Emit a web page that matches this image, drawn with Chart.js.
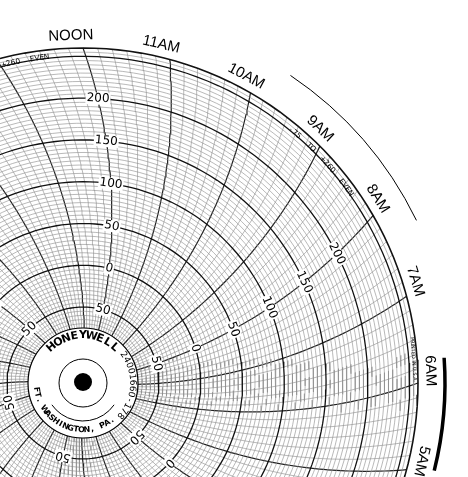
<!DOCTYPE html>
<html><head><meta charset="utf-8">
<script src="https://cdn.jsdelivr.net/npm/chart.js@4"></script>
<style>body{margin:0;background:#fff}#wrap{width:468px;height:477px}</style>
</head><body><div id="wrap"><canvas id="c"></canvas></div>
<script>
// chart paper: -75 to +260 even, 24 hours
const valueMin = -75, valueMax = 260, valueStep = 5;
const hourLabels = ["NOON","11AM","10AM","9AM","8AM","7AM","6AM","5AM","4AM","3AM","2AM","1AM",
  "MIDNIGHT","11PM","10PM","9PM","8PM","7PM","6PM","5PM","4PM","3PM","2PM","1PM"];
const scaleLabels = ["50","0","50","100","150","200"];
const scaleValues = [-50, 0, 50, 100, 150, 200];
const scaleHours = [0, 4, 8, 12, 16, 20]; // index into hourLabels
const rangeText = "-75  TO  +260  EVEN";

const HUB = 55, OUTER = 335, ARM = 1000;
const rad = v => HUB + (v - valueMin) * (OUTER - HUB) / (valueMax - valueMin);
const bend = r => Math.acos(r / ARM) - Math.acos(OUTER / ARM);
function pos(v, deg) {
  const r = rad(v), a = deg * Math.PI / 180 + bend(r);
  return { x: r * Math.sin(a), y: r * Math.cos(a), a: a };
}

const datasets = [];
for (let v = valueMin; v <= valueMax; v += valueStep) {
  const pts = [];
  for (let d = 0; d <= 360; d += 2) pts.push(pos(v, d));
  const major = v % 50 === 0 || v === valueMax;
  datasets.push({ data: pts, borderColor: major ? "#111" : "#8a8a8a",
    borderWidth: v === valueMax ? 1.6 : (major ? 1.3 : 0.6) });
}
for (let k = 0; k < 144; k++) {
  const pts = [];
  for (let v = valueMin; v <= valueMax; v += 5) pts.push(pos(v, k * 2.5));
  const hour = k % 6 === 0;
  datasets.push({ data: pts, borderColor: hour ? "#222" : "#8a8a8a", borderWidth: hour ? 1.2 : 0.6 });
}

function arcText(ctx, text, r, center, outward, spacing) {
  const step = spacing / r;
  let a = center * Math.PI / 180 - (outward ? 1 : -1) * step * (text.length - 1) / 2;
  for (const ch of text) {
    ctx.save();
    ctx.translate(r * Math.sin(a), -r * Math.cos(a));
    ctx.rotate(outward ? a : a - Math.PI);
    ctx.textAlign = "center";
    ctx.textBaseline = outward ? "bottom" : "top";
    ctx.fillText(ch, 0, 0);
    ctx.restore();
    a += outward ? step : -step;
  }
}

const paper = {
  id: "paper",
  afterDatasetsDraw(chart) {
    const ctx = chart.ctx, xs = chart.scales.x, ys = chart.scales.y;
    const cx = xs.getPixelForValue(0), cy = ys.getPixelForValue(0);
    ctx.save();
    ctx.translate(cx, cy);
    ctx.fillStyle = "#000"; ctx.strokeStyle = "#000";
    // scale labels along every fourth hour line
    ctx.font = "12px 'DejaVu Sans'";
    scaleHours.forEach(h => {
      scaleValues.forEach((v, i) => {
        const p = pos(v, h * 15);
        ctx.save();
        ctx.translate(p.x, -p.y);
        ctx.rotate(p.a);
        const w = ctx.measureText(scaleLabels[i]).width;
        ctx.fillStyle = "#fff"; ctx.fillRect(-w / 2 - 1, -6, w + 2, 12);
        ctx.fillStyle = "#000"; ctx.textAlign = "center"; ctx.textBaseline = "middle";
        ctx.fillText(scaleLabels[i], 0, 0);
        ctx.restore();
      });
    });
    // hour labels
    ctx.font = "15px 'Liberation Sans'";
    hourLabels.forEach((t, i) => {
      const a = (i * 15 - 2) * Math.PI / 180;
      ctx.save();
      ctx.translate(344 * Math.sin(a), -344 * Math.cos(a));
      ctx.rotate(a);
      ctx.textAlign = "center"; ctx.textBaseline = "bottom";
      ctx.fillText(t, 0, 4);
      ctx.restore();
    });
    // range text inside the rim
    ctx.font = "7.5px 'DejaVu Sans'";
    [-14, 47].forEach(c => arcText(ctx, rangeText, 324, c, true, 4.8));
    ctx.save(); ctx.rotate(1.5); ctx.font = "5px 'DejaVu Sans'";
    ctx.textAlign = "center"; ctx.fillText("PRINTED IN U.S.A.", 0, -330); ctx.restore();
    // outer arcs
    ctx.lineWidth = 1; ctx.beginPath();
    ctx.arc(0, 0, 371, (34 - 90) * Math.PI / 180, (64 - 90) * Math.PI / 180); ctx.stroke();
    ctx.lineWidth = 3.5; ctx.beginPath();
    ctx.arc(0, 0, 362, (86 - 90) * Math.PI / 180, (104 - 90) * Math.PI / 180); ctx.stroke();
    // hub
    ctx.fillStyle = "#fff"; ctx.beginPath(); ctx.arc(0, 0, HUB, 0, 2 * Math.PI); ctx.fill();
    ctx.lineWidth = 1.2; ctx.stroke();
    ctx.lineWidth = 1; ctx.beginPath(); ctx.arc(0, 0, 24, 0, 2 * Math.PI); ctx.stroke();
    ctx.fillStyle = "#000"; ctx.beginPath(); ctx.arc(0, -1, 9, 0, 2 * Math.PI); ctx.fill();
    ctx.beginPath(); ctx.arc(0, 0, 38, 35 * Math.PI / 180, 145 * Math.PI / 180); ctx.stroke();
    ctx.font = "bold 11px 'DejaVu Sans'";
    arcText(ctx, "HONEYWELL", 42, 0, true, 7.6);
    ctx.font = "9px 'DejaVu Sans'";
    arcText(ctx, "24001660-178", 45, 93, true, 5.4);
    ctx.font = "bold 8px 'DejaVu Sans'";
    arcText(ctx, "FT. WASHINGTON, PA.", 43, 202, false, 5.0);
    ctx.restore();
  }
};

new Chart(document.getElementById("c"), {
  type: "scatter",
  data: { datasets: datasets.map(d => Object.assign(d, { showLine: true, pointRadius: 0, fill: false })) },
  options: {
    responsive: true, maintainAspectRatio: false, animation: false,
    layout: { padding: 0 },
    plugins: { legend: { display: false }, tooltip: { enabled: false } },
    events: [],
    scales: {
      x: { type: "linear", min: -83, max: 385, display: false },
      y: { type: "linear", min: -94, max: 383, display: false }
    }
  },
  plugins: [paper]
});
</script></body></html>
